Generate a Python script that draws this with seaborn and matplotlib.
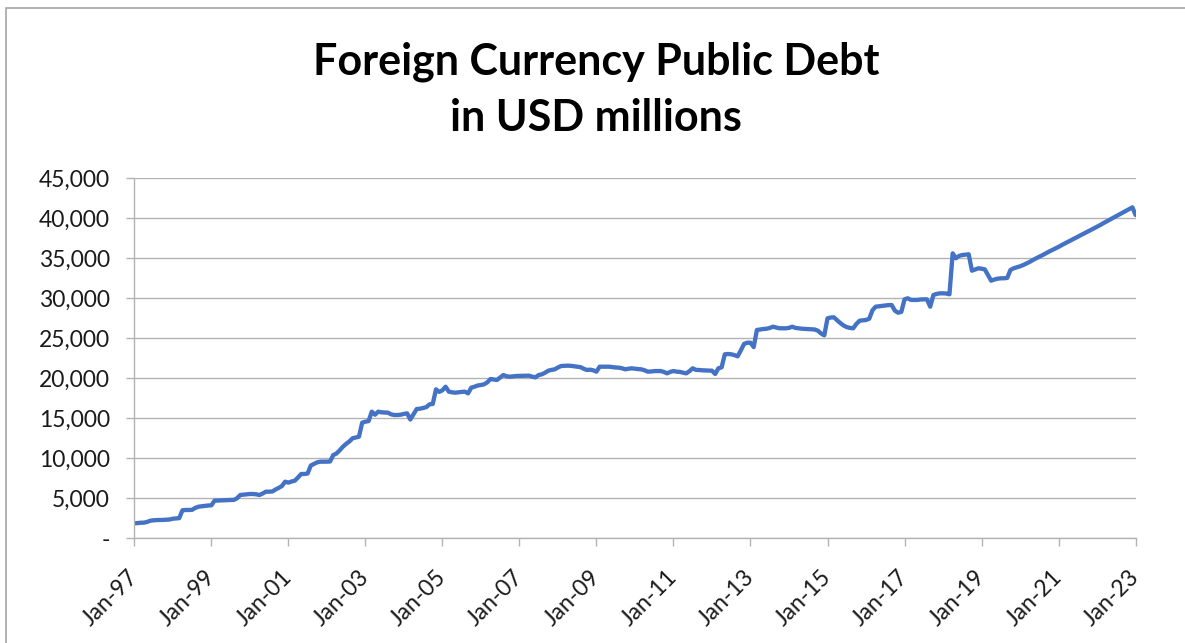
import matplotlib
matplotlib.use("Agg")
import matplotlib.pyplot as plt
from matplotlib.patches import Rectangle
import seaborn as sns
import pandas as pd

# Monthly foreign currency public debt, USD millions (Jan-1997 .. Jan-2023)
debt_usd_mn = [
    1875, 1900, 1950, 1950, 2050, 2200, 2250, 2280, 2290, 2300, 2330, 2350,          # 1997
    2450, 2480, 2520, 3500, 3540, 3540, 3560, 3800, 3950, 4000, 4050, 4100,          # 1998
    4120, 4700, 4720, 4750, 4760, 4780, 4790, 4800, 5000, 5410, 5450, 5500,          # 1999
    5540, 5540, 5500, 5410, 5600, 5830, 5830, 5850, 6100, 6300, 6540, 7080,          # 2000
    6960, 7100, 7200, 7600, 8040, 8040, 8100, 9100, 9300, 9500, 9580, 9580,          # 2001
    9580, 9600, 10410, 10600, 11000, 11450, 11800, 12100, 12500, 12600, 12700, 14450,  # 2002
    14580, 14650, 15830, 15450, 15830, 15750, 15720, 15710, 15500, 15410, 15410, 15450,  # 2003
    15550, 15620, 14850, 15500, 16160, 16200, 16290, 16400, 16750, 16790, 18620, 18300,  # 2004
    18500, 18950, 18330, 18250, 18200, 18250, 18300, 18330, 18120, 18830, 18950, 19100,  # 2005
    19160, 19250, 19500, 19910, 19850, 19790, 20100, 20410, 20250, 20200, 20250, 20290,  # 2006
    20300, 20320, 20330, 20330, 20200, 20120, 20410, 20500, 20700, 20950, 21050, 21120,  # 2007
    21350, 21540, 21560, 21580, 21560, 21500, 21450, 21400, 21200, 21040, 21080, 21000,  # 2008
    20830, 21450, 21450, 21450, 21450, 21400, 21350, 21330, 21250, 21120, 21200, 21250,  # 2009
    21200, 21150, 21120, 21000, 20830, 20850, 20900, 20910, 20910, 20800, 20620, 20800,  # 2010
    20910, 20830, 20800, 20700, 20620, 20900, 21250, 21050, 21040, 21000, 20980, 20950,  # 2011
    20950, 20540, 21250, 21370, 23000, 23040, 23000, 22900, 22750, 23500, 24300, 24450,  # 2012
    24450, 23900, 26040, 26100, 26160, 26200, 26290, 26450, 26350, 26250, 26250, 26250,  # 2013
    26300, 26450, 26300, 26250, 26200, 26180, 26150, 26120, 26100, 25950, 25600, 25370,  # 2014
    27500, 27600, 27620, 27250, 26900, 26600, 26400, 26300, 26250, 26800, 27200, 27250,  # 2015
    27290, 27450, 28500, 28950, 29000, 29040, 29100, 29150, 29160, 28450, 28200, 28300,  # 2016
    29870, 30000, 29800, 29790, 29800, 29850, 29870, 29870, 28950, 30410, 30550, 30620,  # 2017
    30620, 30600, 30500, 35620, 35000, 35300, 35410, 35450, 35500, 33450, 33600, 33750,  # 2018
    33700, 33620, 32900, 32200, 32350, 32450, 32500, 32500, 32550, 33540, 33750, 33870,  # 2019
    34000, 34160, 34350, 34550, 34790, 35000, 35200, 35400, 35620, 35830, 36030, 36230,  # 2020
    36430, 36650, 36870, 37070, 37280, 37490, 37700, 37910, 38120, 38330, 38540, 38750,  # 2021
    38950, 39160, 39400, 39620, 39840, 40060, 40290, 40500, 40720, 40940, 41150, 41370,  # 2022
    40410,                                                                             # 2023
]

months = pd.date_range("1997-01-01", periods=len(debt_usd_mn), freq="MS")
x_tick_labels = ["Jan-97", "Jan-99", "Jan-01", "Jan-03", "Jan-05", "Jan-07", "Jan-09",
                 "Jan-11", "Jan-13", "Jan-15", "Jan-17", "Jan-19", "Jan-21", "Jan-23"]
y_ticks = [0, 5000, 10000, 15000, 20000, 25000, 30000, 35000, 40000, 45000]

df = pd.DataFrame({"idx": range(len(months)), "month": months, "debt": debt_usd_mn})

sns.set_style("white")
plt.rcParams["font.family"] = ["Lato", "DejaVu Sans"]

W, H = 1185, 643
fig = plt.figure(figsize=(W / 100, H / 100), dpi=100)
ax = fig.add_axes([134.3 / W, 1 - 538.3 / H, (1135.6 - 134.3) / W, (538.3 - 178.3) / H])

grid_c = "#b3b3b3"
sns.lineplot(data=df, x="idx", y="debt", ax=ax, color="#4472C4", linewidth=3.1)

ax.set_xlim(0, len(months) - 1)
ax.set_ylim(0, 45000)
ax.set_xlabel("")
ax.set_ylabel("")

tick_pos = list(range(0, len(months), 24))
ax.set_xticks(tick_pos)
ax.set_xticklabels(x_tick_labels, rotation=45, ha="right", va="center",
                   rotation_mode="anchor", fontsize=16.5, color="#1a1a1a")
ax.set_yticks(y_ticks)
ax.set_yticklabels(["-" if v == 0 else f"{v:,}" for v in y_ticks],
                   fontsize=16.5, color="#1a1a1a")

ax.yaxis.grid(True, color=grid_c, linewidth=1.0)
ax.set_axisbelow(True)
for side in ["top", "right"]:
    ax.spines[side].set_visible(False)
for side in ["left", "bottom"]:
    ax.spines[side].set_color(grid_c)
    ax.spines[side].set_linewidth(1.0)

ax.tick_params(axis="x", which="major", direction="out", length=5.5, width=1.0,
               color=grid_c, pad=20, bottom=True)
ax.tick_params(axis="y", which="major", direction="out", length=5.5, width=1.0,
               color=grid_c, pad=12, left=True)

fig.text(0.503, 1 - 62 / H, "Foreign Currency Public Debt", ha="center", va="center",
         fontsize=31, fontweight="bold", color="#000000")
fig.text(0.503, 1 - 118 / H, "in USD millions", ha="center", va="center",
         fontsize=31, fontweight="bold", color="#000000")

# chart-area frame
fig.patches.append(Rectangle((6 / W, -0.1), 1.2, 1 - 8 / H + 0.1, transform=fig.transFigure,
                             fill=False, edgecolor="#a6a6a6", linewidth=1.2))

fig.savefig("out.png", dpi=100)
